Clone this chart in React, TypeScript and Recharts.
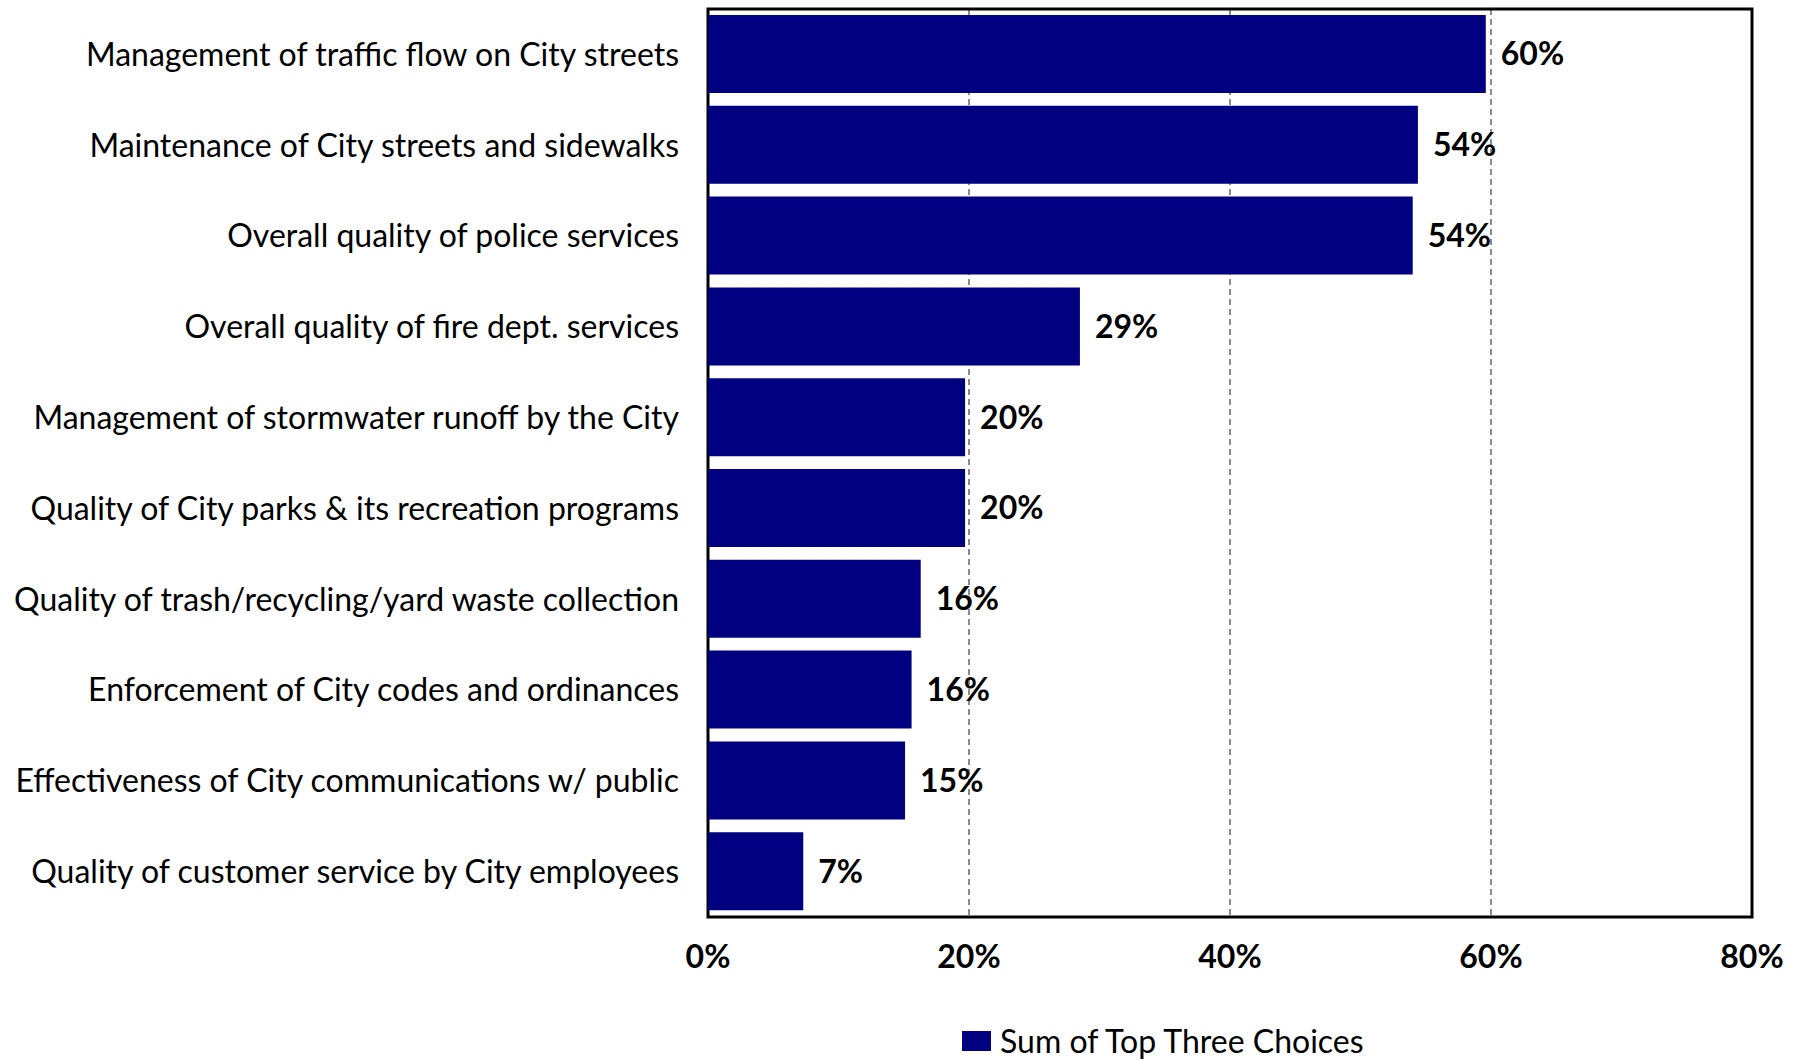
import { BarChart, Bar, XAxis, YAxis, CartesianGrid, ReferenceArea, LabelList } from "recharts";

const categories = [
  "Management of traffic flow on City streets",
  "Maintenance of City streets and sidewalks",
  "Overall quality of police services",
  "Overall quality of fire dept. services",
  "Management of stormwater runoff by the City",
  "Quality of City parks & its recreation programs",
  "Quality of trash/recycling/yard waste collection",
  "Enforcement of City codes and ordinances",
  "Effectiveness of City communications w/ public",
  "Quality of customer service by City employees",
];
const topThree = [59.6, 54.4, 54.0, 28.5, 19.7, 19.7, 16.3, 15.6, 15.1, 7.3];
const xTicks = [0, 20, 40, 60, 80];
const seriesName = "Sum of Top Three Choices";

const FONT = "Lato, 'Open Sans', sans-serif";
const NAVY = "#000080";

const data = categories.map((c, i) => ({ name: c, value: topThree[i] }));

export default function App() {
  return (
    <div style={{ position: "relative", width: 1805, height: 1060, fontFamily: FONT, background: "#fff", overflow: "hidden" }}>
      <style>{`body{margin:0}`}</style>
      <BarChart
        width={1805}
        height={1060}
        data={data}
        layout="vertical"
        margin={{ top: 9, right: 53, left: 0, bottom: 73 }}
      >
        <CartesianGrid horizontal={false} stroke="#666" strokeWidth={1.5} strokeDasharray="6 4" />
        <XAxis
          type="number"
          domain={[0, 80]}
          ticks={xTicks}
          tickFormatter={(v) => `${v}%`}
          height={70}
          axisLine={false}
          tickLine={false}
          tickSize={0}
          tickMargin={28}
          tick={{ fontSize: 32, fontWeight: 700, fill: "#000", fontFamily: FONT }}
        />
        <YAxis
          type="category"
          dataKey="name"
          width={708}
          axisLine={false}
          tickLine={false}
          tickSize={0}
          tickMargin={29}
          interval={0}
          tick={{ fontSize: 32, fill: "#000", fontFamily: FONT }}
        />
        <Bar dataKey="value" fill={NAVY} barSize={78} isAnimationActive={false}>
          <LabelList
            dataKey="value"
            position="right"
            offset={15}
            formatter={(v: number) => `${Math.round(v)}%`}
            style={{ fontSize: 32, fontWeight: 700, fill: "#000", fontFamily: FONT }}
          />
        </Bar>
        <ReferenceArea x1={0} x2={80} fill="none" fillOpacity={0} stroke="#000" strokeWidth={3} ifOverflow="visible" />
      </BarChart>
      <div
        style={{
          position: "absolute",
          left: 962,
          top: 1022,
          display: "flex",
          alignItems: "center",
          fontSize: 32,
          lineHeight: "38px",
          color: "#000",
          whiteSpace: "nowrap",
        }}
      >
        <span style={{ display: "inline-block", width: 29, height: 20, background: NAVY, marginRight: 9 }} />
        <span>{seriesName}</span>
      </div>
    </div>
  );
}
